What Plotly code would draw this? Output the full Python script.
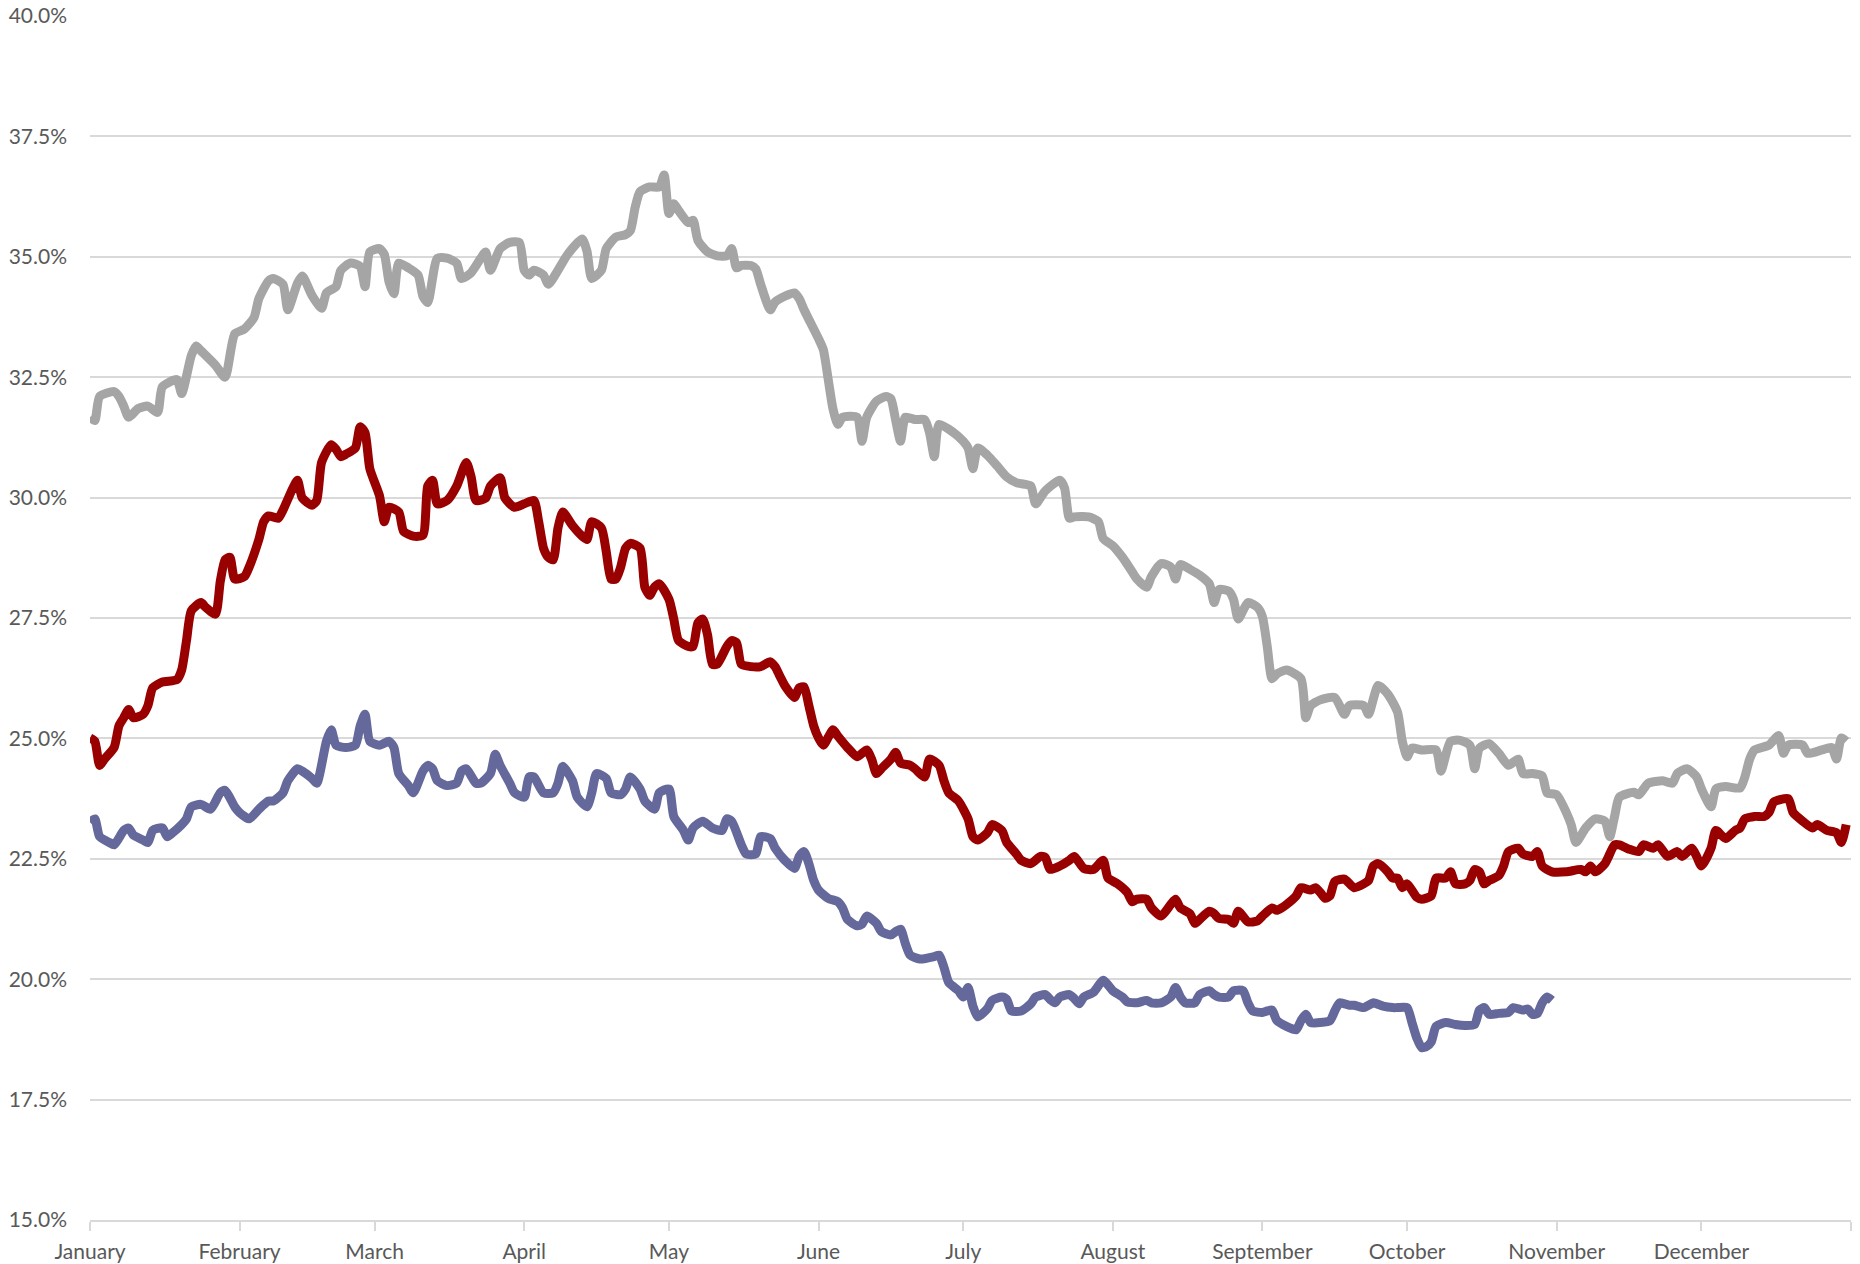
import pandas as pd
import plotly.graph_objects as go

# Day-of-year offsets (0 = January 1) and values in percent
gray_days = [0,1,2,5,6,7,8,10,12,14,15,18,19,21,22,23,26,28,30,32,34,35,37,38,40,41,43,44,46,48,49,51,52,54,56,57,58,60,61,62,63,64,66,68,69,70,72,74,76,77,79,81,82,83,85,87,89,90,91,92,94,95,97,99,102,103,104,106,107,109,111,112,113,114,116,118,119,120,121,122,124,125,126,128,130,132,133,134,135,137,138,139,141,142,144,146,147,148,150,151,152,153,154,155,156,159,160,161,163,165,166,167,168,169,171,173,174,175,176,179,181,182,183,184,186,188,190,192,193,195,196,198,201,202,203,204,207,209,210,212,214,216,217,219,220,222,224,225,226,228,230,232,233,234,236,237,238,240,242,243,244,245,246,248,251,252,253,255,258,260,261,264,265,267,269,271,272,273,274,276,279,280,282,284,286,287,288,290,292,294,296,297,299,301,302,304,306,307,308,310,312,314,315,316,317,320,321,322,323,326,328,329,331,333,334,336,337,339,342,343,344,345,348,350,351,352,355,356,359,361,362,363,364]
gray_vals = [31.67,31.6,32.1,32.2,32.1,31.9,31.67,31.85,31.9,31.77,32.3,32.45,32.16,32.95,33.15,33.05,32.75,32.5,33.4,33.5,33.74,34.13,34.5,34.55,34.43,33.9,34.45,34.6,34.2,33.93,34.25,34.38,34.72,34.87,34.8,34.38,35.1,35.17,35.05,34.47,34.23,34.87,34.77,34.62,34.18,34.05,34.97,34.97,34.87,34.55,34.67,34.97,35.1,34.72,35.17,35.3,35.3,34.72,34.62,34.72,34.62,34.43,34.72,35.05,35.37,35.12,34.55,34.72,35.17,35.41,35.46,35.54,36.03,36.35,36.45,36.45,36.7,35.9,36.1,35.96,35.71,35.76,35.34,35.1,35.02,35.02,35.17,34.77,34.82,34.82,34.75,34.43,33.9,34.06,34.18,34.25,34.13,33.9,33.5,33.3,33.07,32.46,31.84,31.52,31.67,31.67,31.17,31.67,32.0,32.1,32.05,31.6,31.17,31.67,31.62,31.62,31.35,30.85,31.52,31.35,31.17,31.03,30.6,31.03,30.88,30.66,30.43,30.31,30.29,30.24,29.87,30.14,30.36,30.2,29.57,29.6,29.6,29.5,29.15,29.0,28.76,28.46,28.31,28.14,28.36,28.63,28.56,28.31,28.61,28.51,28.39,28.21,27.82,28.09,28.06,27.89,27.48,27.82,27.72,27.53,26.91,26.24,26.34,26.42,26.24,25.43,25.68,25.8,25.85,25.5,25.68,25.68,25.5,26.1,25.92,25.55,24.94,24.62,24.8,24.76,24.76,24.32,24.94,24.96,24.86,24.37,24.8,24.89,24.69,24.44,24.57,24.27,24.27,24.22,23.87,23.83,23.46,23.21,22.84,23.14,23.33,23.28,22.96,23.38,23.78,23.88,23.83,23.95,24.07,24.12,24.07,24.27,24.37,24.2,23.95,23.58,23.95,24.0,23.97,24.2,24.57,24.76,24.86,25.06,24.69,24.86,24.86,24.69,24.76,24.81,24.57,25.01,24.94]

red_days = [0,1,2,3,5,6,7,8,9,11,12,13,15,18,19,20,21,23,24,26,27,28,29,30,32,33,35,36,37,39,40,42,43,44,46,47,48,50,51,52,53,55,56,57,58,60,61,62,64,65,67,69,70,71,72,74,76,78,79,80,82,83,85,86,88,90,92,93,94,95,96,97,98,100,102,103,104,106,107,108,109,110,111,112,114,115,116,117,118,120,121,122,124,125,126,127,128,129,130,132,133,134,135,137,139,141,142,143,144,146,147,148,149,150,151,152,154,155,157,159,161,162,163,164,166,167,168,170,171,173,174,176,177,178,180,182,183,184,186,187,189,190,192,193,195,197,198,199,201,203,204,206,208,210,211,213,215,216,217,219,220,222,224,225,226,228,229,230,232,233,234,236,237,238,240,242,243,245,246,247,248,250,251,253,254,255,256,257,258,260,262,264,265,266,267,269,270,271,272,273,275,276,278,279,281,282,283,285,286,287,288,289,290,292,293,294,296,297,299,300,301,303,306,309,310,311,312,314,316,317,319,321,322,324,325,327,329,330,332,333,334,336,337,339,341,342,343,345,347,348,349,352,353,355,357,358,360,362,363,364]
red_vals = [25.01,24.94,24.44,24.57,24.81,25.26,25.43,25.6,25.43,25.5,25.68,26.05,26.17,26.22,26.42,27.03,27.65,27.82,27.72,27.58,28.26,28.71,28.76,28.31,28.36,28.56,29.13,29.5,29.62,29.57,29.74,30.19,30.36,29.99,29.84,29.94,30.73,31.1,31.0,30.85,30.9,31.03,31.47,31.35,30.6,30.04,29.5,29.8,29.7,29.3,29.2,29.22,30.24,30.36,29.87,29.94,30.24,30.73,30.43,29.94,29.99,30.24,30.41,29.99,29.8,29.87,29.94,29.5,28.95,28.76,28.71,29.37,29.7,29.42,29.2,29.13,29.5,29.37,28.88,28.31,28.31,28.56,28.95,29.05,28.95,28.14,27.97,28.14,28.21,27.89,27.48,27.03,26.91,26.91,27.4,27.48,27.15,26.54,26.54,26.91,27.03,26.99,26.54,26.49,26.49,26.59,26.49,26.29,26.1,25.85,26.05,26.07,25.68,25.26,25.01,24.86,25.18,25.05,24.81,24.62,24.76,24.57,24.27,24.37,24.57,24.71,24.49,24.44,24.37,24.2,24.57,24.44,24.12,23.87,23.7,23.33,22.96,22.89,23.04,23.21,23.09,22.84,22.6,22.47,22.4,22.55,22.53,22.28,22.35,22.47,22.55,22.3,22.28,22.47,22.1,21.98,21.8,21.61,21.66,21.66,21.48,21.31,21.55,21.66,21.48,21.36,21.16,21.24,21.41,21.36,21.26,21.24,21.16,21.41,21.19,21.21,21.31,21.48,21.43,21.48,21.55,21.73,21.9,21.85,21.9,21.8,21.68,21.73,22.03,22.08,21.9,21.98,22.05,22.35,22.4,22.23,22.1,22.1,21.9,21.98,21.7,21.66,21.73,22.1,22.1,22.23,21.98,21.98,22.05,22.28,22.23,21.98,22.05,22.15,22.35,22.65,22.72,22.6,22.55,22.65,22.35,22.23,22.23,22.28,22.23,22.35,22.23,22.4,22.79,22.79,22.7,22.65,22.79,22.72,22.79,22.55,22.65,22.55,22.72,22.55,22.35,22.72,23.09,22.92,23.09,23.14,23.33,23.38,23.38,23.46,23.68,23.75,23.46,23.28,23.14,23.21,23.09,23.04,22.84,23.21]

blue_days = [0,1,2,4,5,7,8,9,11,12,13,15,16,17,19,20,21,23,25,27,28,30,31,33,35,37,38,40,41,43,44,46,47,49,50,51,53,55,56,57,58,60,62,63,64,66,67,69,70,71,72,74,76,77,78,80,81,83,84,85,87,88,90,91,92,94,96,97,98,100,101,103,104,105,107,108,110,111,112,114,115,117,118,120,121,123,124,125,127,129,131,132,133,135,136,138,139,141,142,144,146,147,148,149,150,151,153,155,156,157,159,160,161,163,164,166,167,168,169,170,172,175,176,177,178,180,181,182,183,184,186,187,189,190,191,193,195,196,198,199,200,201,203,204,205,206,208,210,211,212,214,215,217,219,220,222,224,225,226,227,229,230,232,233,234,236,237,239,240,241,243,244,245,246,248,250,251,252,253,255,257,258,259,261,262,264,265,266,268,270,271,273,274,275,276,277,278,279,281,283,285,287,288,289,290,292,294,295,297,298,299,300,301,302,303]
blue_vals = [23.26,23.33,22.96,22.84,22.79,23.09,23.14,22.99,22.89,22.84,23.09,23.14,22.96,23.03,23.21,23.33,23.58,23.63,23.53,23.87,23.92,23.58,23.46,23.33,23.53,23.7,23.7,23.87,24.12,24.37,24.32,24.17,24.07,24.94,25.18,24.86,24.81,24.86,25.26,25.5,24.94,24.86,24.94,24.81,24.27,24.02,23.87,24.32,24.44,24.37,24.12,24.02,24.07,24.32,24.37,24.07,24.07,24.27,24.67,24.44,24.07,23.87,23.78,24.2,24.2,23.87,23.87,24.07,24.42,24.12,23.78,23.58,23.87,24.27,24.17,23.87,23.83,23.95,24.2,23.95,23.7,23.53,23.87,23.95,23.38,23.09,22.89,23.14,23.28,23.14,23.09,23.33,23.28,22.79,22.6,22.6,22.96,22.92,22.72,22.47,22.3,22.55,22.65,22.4,22.05,21.85,21.68,21.61,21.48,21.24,21.11,21.14,21.31,21.16,20.99,20.92,20.99,21.04,20.74,20.5,20.42,20.47,20.5,20.25,19.93,19.76,19.63,19.83,19.44,19.22,19.39,19.56,19.63,19.58,19.34,19.34,19.49,19.63,19.68,19.58,19.51,19.63,19.68,19.6,19.49,19.63,19.73,19.98,19.88,19.76,19.63,19.53,19.51,19.56,19.51,19.51,19.63,19.83,19.63,19.51,19.51,19.68,19.76,19.68,19.63,19.63,19.76,19.76,19.51,19.34,19.31,19.34,19.36,19.14,19.02,18.95,19.14,19.27,19.1,19.1,19.14,19.34,19.51,19.46,19.46,19.41,19.46,19.51,19.44,19.41,19.41,19.41,19.1,18.78,18.58,18.6,18.7,19.02,19.1,19.06,19.04,19.06,19.36,19.41,19.27,19.29,19.31,19.41,19.36,19.38,19.27,19.29,19.51,19.63,19.56]

month_labels = ["January", "February", "March", "April", "May", "June", "July",
                "August", "September", "October", "November", "December", ""]
y_ticks = [15.0, 17.5, 20.0, 22.5, 25.0, 27.5, 30.0, 32.5, 35.0, 37.5, 40.0]

start = pd.Timestamp("2021-01-01")
def to_dates(days):
    return [start + pd.Timedelta(days=d) for d in days]

month_starts = list(pd.date_range("2021-01-01", "2022-01-01", freq="MS"))

fig = go.Figure()
series = [
    (gray_days, gray_vals, "#A5A5A5"),
    (red_days, red_vals, "#990000"),
    (blue_days, blue_vals, "#64689A"),
]
for d, v, c in series:
    fig.add_trace(go.Scatter(
        x=to_dates(d), y=v, mode="lines",
        line=dict(color=c, width=9, shape="spline", smoothing=0.6),
        showlegend=False, hoverinfo="skip"))

font_family = "Lato, 'Liberation Sans', sans-serif"
fig.update_layout(
    width=1860, height=1264,
    margin=dict(l=90, r=9, t=16, b=44),
    paper_bgcolor="white", plot_bgcolor="white",
    font=dict(family=font_family, size=21, color="#595959"),
)
fig.update_xaxes(
    type="date", automargin=False,
    range=[start, pd.Timestamp("2022-01-01")],
    tickvals=month_starts, ticktext=month_labels,
    ticks="outside", ticklen=9, tickwidth=1.5, tickcolor="#D9D9D9",
    showline=True, linecolor="#D9D9D9", linewidth=1.5,
    showgrid=False, zeroline=False,
    tickfont=dict(size=21, color="#595959"),
    ticklabelstandoff=3,
)
fig.update_yaxes(
    range=[15, 40], automargin=False,
    tickvals=y_ticks, ticktext=[f"{t:.1f}%" for t in y_ticks],
    showgrid=True, gridcolor="#D9D9D9", gridwidth=1.5,
    zeroline=False, showline=False, ticks="",
    tickfont=dict(size=21, color="#595959"),
    ticklabelstandoff=22,
)

fig.write_html(
    "out.html",
    config={"displayModeBar": False},
    post_script="document.body.style.margin='0';document.body.style.overflow='hidden';",
)
